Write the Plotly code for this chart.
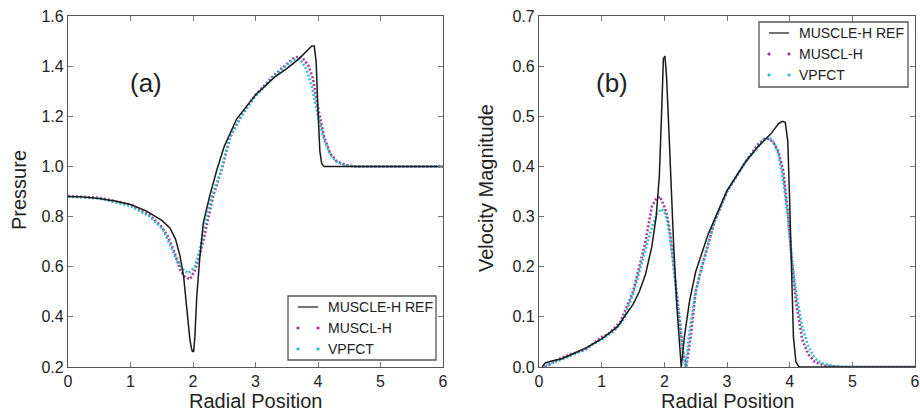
import plotly.graph_objects as go

# ---------------- Pressure (a) ----------------
p_ref_x = [0, 0.25, 0.5, 0.75, 1.0, 1.25, 1.5, 1.63, 1.72, 1.79, 1.85, 1.9, 1.95, 1.975, 1.99, 2.01, 2.03, 2.06, 2.11,
           2.165, 2.27, 2.38, 2.5, 2.7, 3.0, 3.3, 3.5, 3.7, 3.85, 3.9, 3.94, 3.97, 4.0, 4.03, 4.06, 4.1, 4.2, 5.0, 6.0]
p_ref_y = [0.88, 0.878, 0.872, 0.862, 0.848, 0.823, 0.785, 0.755, 0.71, 0.645, 0.56, 0.42, 0.31, 0.275, 0.262, 0.262,
           0.32, 0.48, 0.64, 0.775, 0.885, 0.985, 1.08, 1.19, 1.285, 1.355, 1.39, 1.43, 1.465, 1.48, 1.48, 1.42,
           1.22, 1.06, 1.01, 1.0, 1.0, 1.0, 1.0]

p_muscl_x = [0, 0.5, 1.0, 1.31, 1.5, 1.6, 1.7, 1.8, 1.87, 1.95, 2.03, 2.1, 2.18, 2.25, 2.32, 2.45, 2.6, 2.8, 3.0,
             3.3, 3.5, 3.6, 3.7, 3.78, 3.85, 3.92, 4.0, 4.1, 4.2, 4.3, 4.45, 4.6, 5.0, 6.0]
p_muscl_y = [0.882, 0.875, 0.848, 0.805, 0.76, 0.72, 0.66, 0.585, 0.56, 0.55, 0.585, 0.64, 0.72, 0.80, 0.88, 0.98,
             1.12, 1.215, 1.285, 1.365, 1.41, 1.43, 1.44, 1.425, 1.40, 1.35, 1.235, 1.115, 1.05, 1.02, 1.005, 1.0,
             1.0, 1.0]

p_vpfct_x = [0, 0.5, 1.0, 1.31, 1.525, 1.63, 1.74, 1.85, 1.93, 2.03, 2.11, 2.19, 2.3, 2.43, 2.6, 2.8, 3.0, 3.3,
             3.5, 3.6, 3.68, 3.75, 3.82, 3.9, 4.0, 4.1, 4.2, 4.3, 4.45, 4.6, 5.0, 6.0]
p_vpfct_y = [0.88, 0.872, 0.842, 0.80, 0.746, 0.69, 0.627, 0.587, 0.574, 0.60, 0.667, 0.773, 0.88, 0.97, 1.12,
             1.21, 1.28, 1.36, 1.405, 1.425, 1.43, 1.415, 1.385, 1.32, 1.20, 1.105, 1.045, 1.018, 1.004, 1.0, 1.0,
             1.0]

# ---------------- Velocity magnitude (b) ----------------
v_ref_x = [0.05, 0.1, 0.2, 0.35, 0.5, 0.75, 1.0, 1.25, 1.5, 1.6, 1.7, 1.8, 1.87, 1.92, 1.96, 1.985, 2.01, 2.035,
           2.07, 2.1, 2.15, 2.2, 2.27, 2.32, 2.4, 2.5, 2.7, 3.0, 3.3, 3.5, 3.7, 3.82, 3.88, 3.93, 3.97, 4.0, 4.03,
           4.06, 4.1, 4.15, 5.0, 6.0]
v_ref_y = [0.0, 0.008, 0.012, 0.016, 0.024, 0.038, 0.056, 0.08, 0.125, 0.15, 0.185, 0.24, 0.3, 0.38, 0.52, 0.615,
           0.62, 0.58, 0.48, 0.38, 0.24, 0.12, 0.0, 0.06, 0.13, 0.19, 0.265, 0.352, 0.41, 0.44, 0.465, 0.485, 0.49,
           0.488, 0.45, 0.33, 0.17, 0.06, 0.01, 0.0, 0.0, 0.0]

v_muscl_x = [0.1, 0.3, 0.5, 0.75, 1.0, 1.1, 1.3, 1.5, 1.6, 1.7, 1.8, 1.87, 1.93, 2.0, 2.05, 2.1, 2.15, 2.2, 2.25,
             2.3, 2.35, 2.42, 2.5, 2.6, 2.8, 3.0, 3.3, 3.5, 3.6, 3.68, 3.75, 3.82, 3.9, 3.97, 4.03, 4.1, 4.2, 4.3,
             4.4, 4.55, 4.8, 6.0]
v_muscl_y = [0.0, 0.015, 0.025, 0.035, 0.06, 0.065, 0.09, 0.15, 0.2, 0.25, 0.32, 0.335, 0.34, 0.32, 0.3, 0.26,
             0.2, 0.14, 0.09, 0.03, 0.0, 0.06, 0.15, 0.2, 0.29, 0.35, 0.41, 0.445, 0.455, 0.455, 0.445, 0.43, 0.39,
             0.31, 0.22, 0.13, 0.055, 0.025, 0.01, 0.003, 0.0, 0.0]

v_vpfct_x = [0.08, 0.2, 0.35, 0.5, 0.75, 1.0, 1.2, 1.35, 1.5, 1.6, 1.7, 1.8, 1.88, 1.95, 2.0, 2.05, 2.1, 2.15,
             2.2, 2.25, 2.3, 2.34, 2.4, 2.5, 2.6, 2.8, 3.0, 3.3, 3.5, 3.6, 3.67, 3.75, 3.82, 3.9, 3.97, 4.03, 4.1,
             4.2, 4.3, 4.4, 4.5, 4.7, 5.0, 6.0]
v_vpfct_y = [0.0, 0.008, 0.014, 0.022, 0.037, 0.055, 0.072, 0.095, 0.145, 0.19, 0.232, 0.278, 0.305, 0.315, 0.31,
             0.29, 0.25, 0.2, 0.135, 0.075, 0.025, 0.0, 0.07, 0.15, 0.2, 0.29, 0.35, 0.41, 0.44, 0.455, 0.458,
             0.448, 0.425, 0.37, 0.3, 0.22, 0.15, 0.08, 0.04, 0.018, 0.008, 0.002, 0.0, 0.0]

series_names = ["MUSCLE-H REF", "MUSCL-H", "VPFCT"]
panel_labels = ["(a)", "(b)"]
x_title = "Radial Position"
y_titles = ["Pressure", "Velocity Magnitude"]

W, H = 920, 413
FONT = "Liberation Sans, Arial, Helvetica, sans-serif"
C_REF = "#1a1a1a"
C_MUS = "#a23a9c"
C_VPF = "#35bcc6"
DOT = "2px,2px"
series_colors = [C_REF, C_MUS, C_VPF]

fig = go.Figure()

panels = [
    ("x", "y", p_ref_x, p_ref_y, p_muscl_x, p_muscl_y, p_vpfct_x, p_vpfct_y),
    ("x2", "y2", v_ref_x, v_ref_y, v_muscl_x, v_muscl_y, v_vpfct_x, v_vpfct_y),
]
for xa, ya, rx, ry, mx, my, vx, vy in panels:
    fig.add_trace(go.Scatter(x=mx, y=my, xaxis=xa, yaxis=ya, mode="lines", name=series_names[1],
                             showlegend=False, line=dict(color=C_MUS, width=2.6, dash=DOT)))
    fig.add_trace(go.Scatter(x=vx, y=vy, xaxis=xa, yaxis=ya, mode="lines", name=series_names[2],
                             showlegend=False, line=dict(color=C_VPF, width=2.6, dash=DOT)))
    fig.add_trace(go.Scatter(x=rx, y=ry, xaxis=xa, yaxis=ya, mode="lines", name=series_names[0],
                             showlegend=False, line=dict(color=C_REF, width=1.5)))


def px_x(p):
    return p / W


def px_y(p):
    return 1 - p / H


axis_common = dict(showline=True, linecolor="#555555", linewidth=1.3, mirror="ticks", ticks="inside",
                   ticklen=5, tickcolor="#777777", tickwidth=1, showgrid=False, zeroline=False,
                   tickfont=dict(family=FONT, size=16, color="#222222"), automargin=False)

ydom = [px_y(367), px_y(16)]
fig.update_layout(
    width=W, height=H, margin=dict(l=0, r=0, t=0, b=0),
    paper_bgcolor="white", plot_bgcolor="white", showlegend=False,
    font=dict(family=FONT, color="#222222"),
    xaxis=dict(domain=[px_x(68), px_x(443)], range=[0, 6], dtick=1, anchor="y", **axis_common),
    yaxis=dict(domain=ydom, range=[0.2, 1.6], dtick=0.2, tickformat=".1f", anchor="x", **axis_common),
    xaxis2=dict(domain=[px_x(539), px_x(915)], range=[0, 6], dtick=1, anchor="y2", **axis_common),
    yaxis2=dict(domain=ydom, range=[0, 0.7], dtick=0.1, tickformat=".1f", anchor="x2", **axis_common),
)

annos = [
    (146, 83, panel_labels[0], 26, 0),
    (612, 83, panel_labels[1], 26, 0),
    (255, 401, x_title, 20, 0),
    (727, 401, x_title, 20, 0),
    (19, 190, y_titles[0], 20, -90),
    (486, 188, y_titles[1], 20, -90),
]
for x, y, t, s, ang in annos:
    fig.add_annotation(x=px_x(x), y=px_y(y), xref="paper", yref="paper", text=t, showarrow=False,
                       xanchor="center", yanchor="middle", textangle=ang,
                       font=dict(family=FONT, size=s, color="#222222"))

# hand-built legend boxes (pixel layout of the reference)
legend_boxes = [(288, 296, 436, 360), (759, 22, 908, 87)]
for bx0, by0, bx1, by1 in legend_boxes:
    fig.add_shape(type="rect", xref="paper", yref="paper", x0=px_x(bx0), x1=px_x(bx1), y0=px_y(by1),
                  y1=px_y(by0), line=dict(color="#555555", width=1.3), fillcolor="white", layer="above")
    for i, (name, col) in enumerate(zip(series_names, series_colors)):
        ry = by0 + 11 + 21 * i
        sx0, sx1 = bx0 + 10, bx0 + 30
        if i == 0:
            fig.add_shape(type="line", xref="paper", yref="paper", x0=px_x(sx0), x1=px_x(sx1),
                          y0=px_y(ry), y1=px_y(ry), line=dict(color="#444444", width=1.5), layer="above")
        else:
            for dx in (sx0, sx1):
                fig.add_shape(type="rect", xref="paper", yref="paper", x0=px_x(dx - 1), x1=px_x(dx + 1),
                              y0=px_y(ry + 1), y1=px_y(ry - 1), line=dict(color=col, width=1),
                              fillcolor=col, layer="above")
        fig.add_annotation(x=px_x(bx0 + 38), y=px_y(ry), xref="paper", yref="paper", text=name,
                           showarrow=False, xanchor="left", yanchor="middle",
                           font=dict(family=FONT, size=14, color="#222222"))

fig.write_html("out.html")
